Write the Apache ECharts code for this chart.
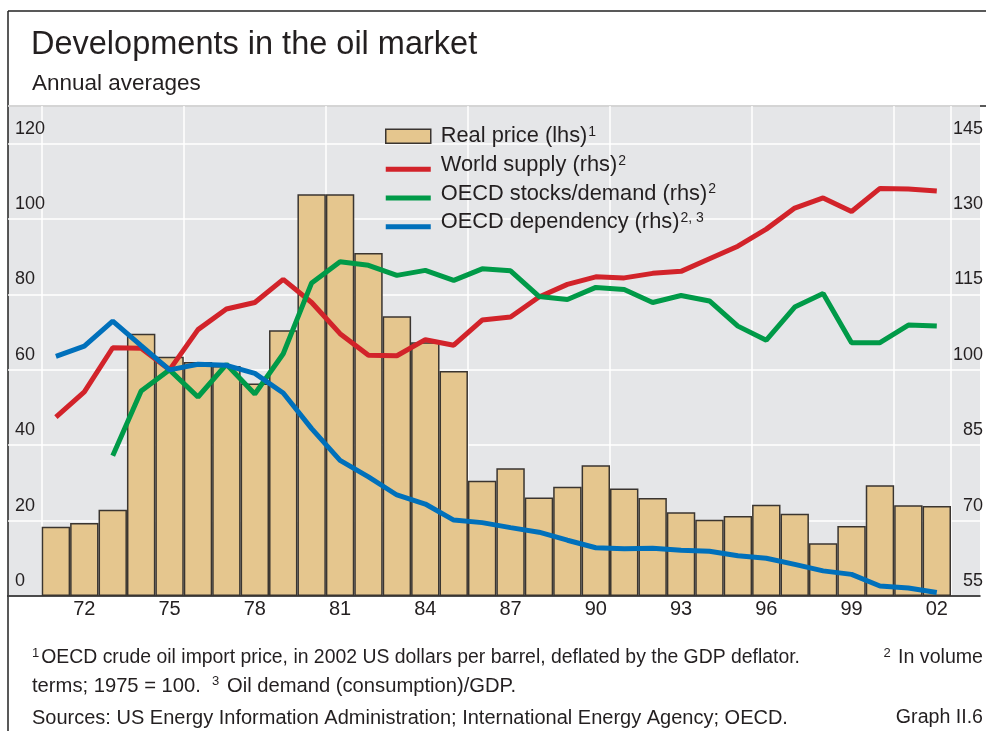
<!DOCTYPE html>
<html>
<head>
<meta charset="utf-8">
<script src="https://cdn.jsdelivr.net/npm/echarts@6/dist/echarts.min.js"></script>
<style>
html, body { margin: 0; padding: 0; background: #fff; }
#main { width: 986px; height: 731px; }
</style>
</head>
<body>
<div id="main"></div>
<script>
// data
var years = [1971, 1972, 1973, 1974, 1975, 1976, 1977, 1978, 1979, 1980,
    1981, 1982, 1983, 1984, 1985, 1986, 1987, 1988, 1989, 1990,
    1991, 1992, 1993, 1994, 1995, 1996, 1997, 1998, 1999, 2000, 2001, 2002];
var realPrice = [18.4, 19.4, 22.9, 69.6, 63.5, 62.1, 61.0, 56.4, 70.5, 106.6,
    106.6, 91.0, 74.2, 67.3, 59.7, 30.6, 33.9, 26.1, 29.0, 34.7,
    28.5, 26.0, 22.2, 20.2, 21.2, 24.2, 21.8, 14.0, 18.6, 29.4, 24.1, 23.9];
var worldSupply = [90.6, 95.6, 104.4, 104.3, 100.0, 108.0, 112.1, 113.4, 118.0, 113.4,
    107.2, 102.9, 102.8, 106.0, 104.9, 109.9, 110.5, 114.5, 117.0, 118.5,
    118.3, 119.2, 119.6, 122.1, 124.6, 128.0, 132.2, 134.2, 131.5, 136.1, 136.0, 135.6];
var stocksDemand = ['-', '-', 82.9, 95.8, 100.0, 94.6, 101.1, 95.2, 103.2, 117.3,
    121.5, 120.8, 118.8, 119.8, 117.8, 120.1, 119.7, 114.6, 114.0, 116.4,
    116.0, 113.4, 114.8, 113.7, 108.7, 105.9, 112.5, 115.2, 105.4, 105.4, 108.9, 108.7];
var dependency = [102.7, 104.7, 109.7, 104.8, 100.0, 101.1, 100.9, 99.3, 95.4, 88.3,
    82.0, 78.7, 75.1, 73.3, 70.1, 69.6, 68.6, 67.7, 66.1, 64.6,
    64.4, 64.5, 64.1, 63.9, 63.0, 62.5, 61.3, 60.0, 59.3, 57.0, 56.6, 55.7];

var leftTicks = [0, 20, 40, 60, 80, 100, 120];
var rightTicks = [55, 70, 85, 100, 115, 130, 145];
var seriesNames = ['Real price (lhs)', 'World supply (rhs)', 'OECD stocks/demand (rhs)', 'OECD dependency (rhs)'];
var noteMarks = ['1', '2', '2', '2, 3'];

var FONT = '"Liberation Sans", Arial, sans-serif';
var TXT = '#231f20';
var lineIcon = 'path://M0,0L45,0L45,0.01Z M0,9L45,9L45,14L0,14Z';
var supStyle = {fontSize: 13, lineHeight: 20, verticalAlign: 'top', padding: [3, 2, 0, 0]};

var chart = echarts.init(document.getElementById('main'));

function plainTitle(text, pos, size, lh) {
    var t = {
        text: text, padding: 0,
        textStyle: {
            fontFamily: FONT, fontSize: size, fontWeight: 'normal', color: TXT, lineHeight: lh,
            rich: {s: supStyle}
        }
    };
    for (var k in pos) t[k] = pos[k];
    return t;
}

var option = {
    animation: false,
    backgroundColor: '#fff',
    textStyle: {fontFamily: FONT, color: TXT},
    title: [
        plainTitle('Developments in the oil market', {left: 31, top: 27}, 32.5, 36),
        plainTitle('Annual averages', {left: 32, top: 71}, 22.5, 26),
        plainTitle('{s|1}OECD crude oil import price, in 2002 US dollars per barrel, deflated by the GDP deflator.', {left: 32, top: 644}, 19.4, 28),
        plainTitle('{s|2} In volume', {right: 3, top: 644}, 19.6, 28),
        plainTitle('terms; 1975 = 100.  {s|3} Oil demand (consumption)/GDP.', {left: 32, top: 672}, 20.2, 28),
        plainTitle('Sources: US Energy Information Administration; International Energy Agency; OECD.', {left: 32, top: 705}, 20, 26),
        plainTitle('Graph II.6', {right: 3, top: 705}, 19.6, 26)
    ],
    legend: {
        orient: 'vertical',
        left: 385, top: 125, padding: 0,
        itemWidth: 45, itemHeight: 14, itemGap: 6.4,
        selectedMode: false,
        textStyle: {
            fontFamily: FONT, fontSize: 21.8, color: TXT, lineHeight: 22.3,
            rich: {
                t: {fontSize: 21.8, padding: [0, 0, 0, 5]},
                s: {fontSize: 14, lineHeight: 15, verticalAlign: 'top', padding: [0, 0, 0, 1]}
            }
        },
        formatter: function (name) {
            return '{t|' + name + '}{s|' + noteMarks[seriesNames.indexOf(name)] + '}';
        },
        data: [
            {name: seriesNames[0], icon: 'rect', itemStyle: {borderColor: '#3a3530', borderWidth: 1.5}},
            {name: seriesNames[1], icon: lineIcon, itemStyle: {borderWidth: 0}},
            {name: seriesNames[2], icon: lineIcon, itemStyle: {borderWidth: 0}},
            {name: seriesNames[3], icon: lineIcon, itemStyle: {borderWidth: 0}}
        ]
    },
    grid: [
        {left: 8, right: 0, top: 106, bottom: 135, show: true, backgroundColor: '#e5e6e8', borderWidth: 0},
        {left: 41.7, right: 35, top: 106, bottom: 135}
    ],
    xAxis: [
        {
            gridIndex: 0, type: 'value', min: 0, max: 1,
            axisLine: {show: true, lineStyle: {color: '#111', width: 1.5}},
            axisTick: {show: false}, axisLabel: {show: false}, splitLine: {show: false}
        },
        {
            gridIndex: 1, type: 'category', data: years, boundaryGap: true,
            axisLine: {show: false}, axisTick: {show: false},
            axisLabel: {
                interval: function (i, v) { return (v - 1972) % 3 === 0; },
                formatter: function (v) { return String(v).slice(2); },
                fontFamily: FONT, fontSize: 20, color: TXT, margin: 3
            },
            splitLine: {show: true, interval: 4, lineStyle: {color: '#fff', width: 1.5}}
        }
    ],
    yAxis: [
        {
            gridIndex: 0, type: 'value', position: 'left', min: 0, max: 130, interval: 20,
            axisLine: {show: false}, axisTick: {show: false},
            axisLabel: {
                inside: true, margin: 7, verticalAlign: 'bottom', padding: [0, 0, 6, 0],
                fontFamily: FONT, fontSize: 18, color: TXT,
                formatter: function (v) { return leftTicks.indexOf(v) >= 0 ? String(v) : ''; }
            },
            splitLine: {show: true, lineStyle: {color: '#fff', width: 1.5}}
        },
        {
            gridIndex: 0, type: 'value', position: 'right', offset: 3, min: 0, max: 130, interval: 20,
            axisLine: {show: false}, axisTick: {show: false},
            axisLabel: {
                inside: true, margin: 0, verticalAlign: 'bottom', padding: [0, 0, 6, 0],
                fontFamily: FONT, fontSize: 18, color: TXT,
                formatter: function (v) {
                    var i = leftTicks.indexOf(v);
                    return i >= 0 ? String(rightTicks[i]) : '';
                }
            },
            splitLine: {show: false}
        },
        {gridIndex: 1, type: 'value', min: 0, max: 130, show: false},
        {gridIndex: 1, type: 'value', min: 55, max: 152.5, show: false}
    ],
    series: [
        {
            name: seriesNames[0], type: 'bar', xAxisIndex: 1, yAxisIndex: 2,
            data: realPrice, barCategoryGap: 0,
            itemStyle: {color: '#e5c68e', borderColor: '#3a3530', borderWidth: 1.5}
        },
        {
            name: seriesNames[1], type: 'line', xAxisIndex: 1, yAxisIndex: 3,
            data: worldSupply, symbol: 'none',
            lineStyle: {color: '#d2232a', width: 5}, itemStyle: {color: '#d2232a', borderWidth: 0}
        },
        {
            name: seriesNames[2], type: 'line', xAxisIndex: 1, yAxisIndex: 3,
            data: stocksDemand, symbol: 'none',
            lineStyle: {color: '#009a48', width: 5}, itemStyle: {color: '#009a48', borderWidth: 0}
        },
        {
            name: seriesNames[3], type: 'line', xAxisIndex: 1, yAxisIndex: 3,
            data: dependency, symbol: 'none',
            lineStyle: {color: '#0070bb', width: 5}, itemStyle: {color: '#0070bb', borderWidth: 0}
        }
    ],
    graphic: [
        {type: 'line', shape: {x1: 8, y1: 11, x2: 986, y2: 11}, style: {stroke: '#222', lineWidth: 1.5}},
        {type: 'line', shape: {x1: 8, y1: 106, x2: 986, y2: 106}, style: {stroke: '#222', lineWidth: 1.5}},
        {type: 'line', shape: {x1: 8, y1: 11, x2: 8, y2: 731}, style: {stroke: '#222', lineWidth: 1.5}}
    ]
};

chart.setOption(option);
</script>
</body>
</html>
